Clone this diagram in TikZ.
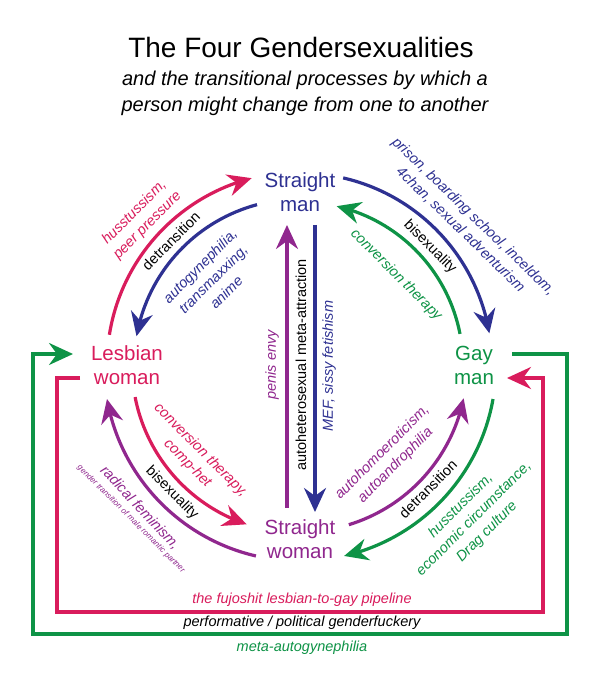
\documentclass[tikz,border=0pt]{standalone}
\usepackage{fontspec}
\setmainfont{Liberation Sans}
\usetikzlibrary{arrows.meta,calc,bending}
\definecolor{cblue}{HTML}{2E3192}
\definecolor{cred}{HTML}{D91C5C}
\definecolor{cgreen}{HTML}{0E9346}
\definecolor{cpurple}{HTML}{90278E}
\begin{document}
\begin{tikzpicture}[x=1pt,y=1pt,
  tipA/.tip={Stealth[length=24pt,width=22pt,inset=8pt]},
  conn/.style={line width=3.2pt,-tipA},
  boxline/.style={line width=3.2pt},
  gstate/.style={font=\fontsize{20.5}{24}\selectfont, align=center, inner sep=0pt},
  lbl/.style={font=\fontsize{14.5}{18.5}\selectfont, align=center, inner sep=0pt},
  ilbl/.style={lbl, font=\fontsize{14.5}{18.5}\selectfont\itshape},
  tinylbl/.style={inner sep=0pt, font=\fontsize{8}{9}\selectfont\itshape},
]
\useasboundingbox (0,0) rectangle (601,686);
\fill[white] (0,0) rectangle (601,686);

% titles
\node[inner sep=0pt, font=\fontsize{28}{32}\selectfont] (title) at (301,639) {The Four Gendersexualities};
\node[inner sep=0pt, align=center, font=\fontsize{20}{26}\selectfont\itshape] (sub) at (305,593)
  {and the transitional processes by which a\\person might change from one to another};

% states
\node[gstate, text=cblue] (SM) at (300,494) {Straight\\man};
\node[gstate, text=cred] (LW) at (127,321) {Lesbian\\woman};
\node[gstate, text=cgreen] (GM) at (474,321) {Gay\\man};
\node[gstate, text=cpurple] (SW) at (300,147) {Straight\\woman};

\coordinate (C) at (300,321);

% top-left
\coordinate (a1) at ($(C)+(171:193)$);
\draw[conn,cred] (a1) arc[start angle=171,end angle=104.5,radius=193];
\coordinate (a2) at ($(C)+(105:166)$);
\draw[conn,cblue] (a2) arc[start angle=105,end angle=170,radius=166];
% top-right
\coordinate (a3) at ($(C)+(77:192)$);
\draw[conn,cblue] (a3) arc[start angle=77,end angle=9.5,radius=192];
\coordinate (a4) at ($(C)+(11:163)$);
\draw[conn,cgreen] (a4) arc[start angle=11,end angle=77,radius=163];
% bottom-left
\coordinate (a5) at ($(C)+(191:168)$);
\draw[conn,cred] (a5) arc[start angle=191,end angle=251.5,radius=168];
\coordinate (a6) at ($(C)+(257:196)$);
\draw[conn,cpurple] (a6) arc[start angle=257,end angle=190,radius=196];
% bottom-right
\coordinate (a7) at ($(C)+(-73:167)$);
\draw[conn,cpurple] (a7) arc[start angle=-73,end angle=-11.5,radius=167];
\coordinate (a8) at ($(C)+(-10:196)$);
\draw[conn,cgreen] (a8) arc[start angle=-10,end angle=-77,radius=196];

% vertical
\coordinate (v1s) at (287,178); \coordinate (v1e) at (287,461);
\draw[conn,cpurple] (v1s) -- (v1e);
\coordinate (v2s) at (315,461); \coordinate (v2e) at (315,174);
\draw[conn,cblue] (v2s) -- (v2e);

% boxes
\coordinate (g0) at (512,332); \coordinate (g1) at (73,332);
\draw[boxline,cgreen,-tipA] (g0) -- (567,332) -- (567,52) -- (33,52) -- (33,332) -- (g1);
\coordinate (r0) at (80,308); \coordinate (r1) at (507,308);
\draw[boxline,cred,-tipA] (r0) -- (57,308) -- (57,74) -- (543,74) -- (543,308) -- (r1);

% labels top-left
\node[ilbl, text=cred, rotate=45] (l1) at (141,467) {husstussism,\\peer pressure};
\node[lbl, rotate=45] (l2) at (171,445) {detransition};
\node[ilbl, text=cblue, rotate=45] (l3) at (213,407) {autogynephilia,\\transmaxxing,\\anime};
% labels top-right
\node[ilbl, text=cblue, rotate=-44] (r1l) at (467,463) {prison, boarding school, inceldom,\\4chan, sexual adventurism};
\node[lbl, rotate=-45] (r2l) at (430,439) {bisexuality};
\node[ilbl, text=cgreen, rotate=-45] (r3l) at (396,411) {conversion therapy};
% labels bottom-left
\node[ilbl, text=cred, rotate=-45] (b1) at (194,229) {conversion therapy,\\comp-het};
\node[lbl, rotate=-45] (b2) at (172,193) {bisexuality};
\node[ilbl, text=cpurple, rotate=-47] (b3) at (140,178) {radical feminism,};
\node[tinylbl, text=cpurple, rotate=-45] (b4) at (131,167) {gender transition of male romantic partner};
% labels bottom-right
\node[ilbl, text=cpurple, rotate=45] (c1) at (389,227) {autohomoeroticism,\\autoandrophilia};
\node[lbl, rotate=45] (c2) at (428,197) {detransition};
\node[ilbl, text=cgreen, rotate=45] (c3) at (474,167) {husstussism,\\economic circumstance,\\Drag culture};
% vertical labels
\node[ilbl, text=cpurple, rotate=90] (m1) at (272,321) {penis envy};
\node[lbl, rotate=90] (m2) at (301,321) {autoheterosexual meta-attraction};
\node[ilbl, text=cblue, rotate=90] (m3) at (329,320) {MEF, sissy fetishism};
% bottom labels
\node[ilbl, text=cred] (f1) at (302,86) {the fujoshit lesbian-to-gay pipeline};
\node[ilbl] (f2) at (302,63) {performative / political genderfuckery};
\node[ilbl, text=cgreen] (f3) at (302,38) {meta-autogynephilia};
\end{tikzpicture}
\end{document}
